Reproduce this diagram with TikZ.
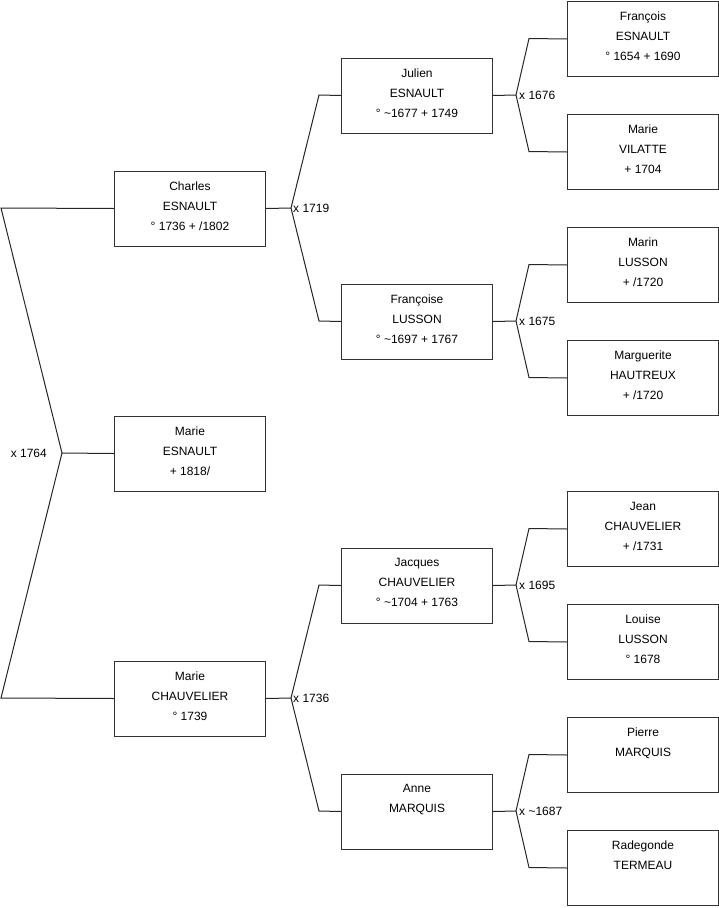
\documentclass[tikz,border=0pt]{standalone}
\usepackage{fontspec}
\setmainfont{Liberation Sans}
\newcommand{\pbox}[4]{%
  \node[box] (#1) at (#2,#3) {};
  \node[txt] (#1t) at ([yshift=-11pt]#1.north) {#4};}
\begin{document}
\begin{tikzpicture}[x=1pt,y=-1pt,
  box/.style={draw=black!80, line width=1pt, minimum width=151pt, minimum height=75pt, inner sep=0pt, anchor=north west},
  txt/.style={anchor=north, inner sep=0pt, align=center, font=\fontsize{12}{20}\selectfont},
  link/.style={draw=black!85, line width=1pt},
  mar/.style={anchor=west, inner sep=0pt, font=\fontsize{12}{14}\selectfont}]
\useasboundingbox (0,0) rectangle (719,908);
% level 3
\pbox{francois}{567}{1}{François\\ESNAULT\\° 1654 + 1690}
\pbox{vilatte}{567}{114}{Marie\\VILATTE\\+ 1704}
\pbox{marin}{567}{227}{Marin\\LUSSON\\+ /1720}
\pbox{hautreux}{567}{340}{Marguerite\\HAUTREUX\\+ /1720}
\pbox{jean}{567}{491}{Jean\\CHAUVELIER\\+ /1731}
\pbox{louise}{567}{604}{Louise\\LUSSON\\° 1678}
\pbox{pierre}{567}{717}{Pierre\\MARQUIS}
\pbox{radegonde}{567}{830}{Radegonde\\TERMEAU}
% level 2
\pbox{julien}{341}{57.5}{Julien\\ESNAULT\\° \textasciitilde1677 + 1749}
\pbox{francoise}{341}{283.5}{Françoise\\LUSSON\\° \textasciitilde1697 + 1767}
\pbox{jacques}{341}{547.5}{Jacques\\CHAUVELIER\\° \textasciitilde1704 + 1763}
\pbox{anne}{341}{773.5}{Anne\\MARQUIS}
% level 1
\pbox{charles}{114}{170.5}{Charles\\ESNAULT\\° 1736 + /1802}
\pbox{esnault}{114}{415.5}{Marie\\ESNAULT\\+ 1818/}
\pbox{chauvelier}{114}{660.5}{Marie\\CHAUVELIER\\° 1739}
% root bracket
\coordinate (r1) at (1,208);
\coordinate (rA) at (62,453);
\coordinate (r2) at (1,698);
\draw[link] (charles.west) -- (r1) -- (rA) -- (r2) -- (chauvelier.west);
\draw[link] (rA) -- (esnault.west);
\node[mar, anchor=east] (rl) at (47,453) {x 1764};
% Charles family
\coordinate (cA) at (291,208);
\coordinate (cAu) at (319,95);
\coordinate (cAd) at (319,321);
\draw[link] (charles.east) -- (cA) -- (cAu) -- (julien.west);
\draw[link] (cA) -- (cAd) -- (francoise.west);
\node[mar] (cl) at (293,208) {x 1719};
% Chauvelier family
\coordinate (mA) at (291,698);
\coordinate (mAu) at (319,585);
\coordinate (mAd) at (319,811);
\draw[link] (chauvelier.east) -- (mA) -- (mAu) -- (jacques.west);
\draw[link] (mA) -- (mAd) -- (anne.west);
\node[mar] (ml) at (293,698) {x 1736};
% Julien family
\coordinate (jA) at (516,95);
\coordinate (jAu) at (529,38.5);
\coordinate (jAd) at (529,151.5);
\draw[link] (julien.east) -- (jA) -- (jAu) -- (francois.west);
\draw[link] (jA) -- (jAd) -- (vilatte.west);
\node[mar] (jl) at (519,95) {x 1676};
% Francoise family
\coordinate (fA) at (516,321);
\coordinate (fAu) at (529,264.5);
\coordinate (fAd) at (529,377.5);
\draw[link] (francoise.east) -- (fA) -- (fAu) -- (marin.west);
\draw[link] (fA) -- (fAd) -- (hautreux.west);
\node[mar] (fl) at (519,321) {x 1675};
% Jacques family
\coordinate (qA) at (516,585);
\coordinate (qAu) at (529,528.5);
\coordinate (qAd) at (529,641.5);
\draw[link] (jacques.east) -- (qA) -- (qAu) -- (jean.west);
\draw[link] (qA) -- (qAd) -- (louise.west);
\node[mar] (ql) at (519,585) {x 1695};
% Anne family
\coordinate (aA) at (516,811);
\coordinate (aAu) at (529,754.5);
\coordinate (aAd) at (529,867.5);
\draw[link] (anne.east) -- (aA) -- (aAu) -- (pierre.west);
\draw[link] (aA) -- (aAd) -- (radegonde.west);
\node[mar] (al) at (519,811) {x \textasciitilde1687};
\end{tikzpicture}
\end{document}
